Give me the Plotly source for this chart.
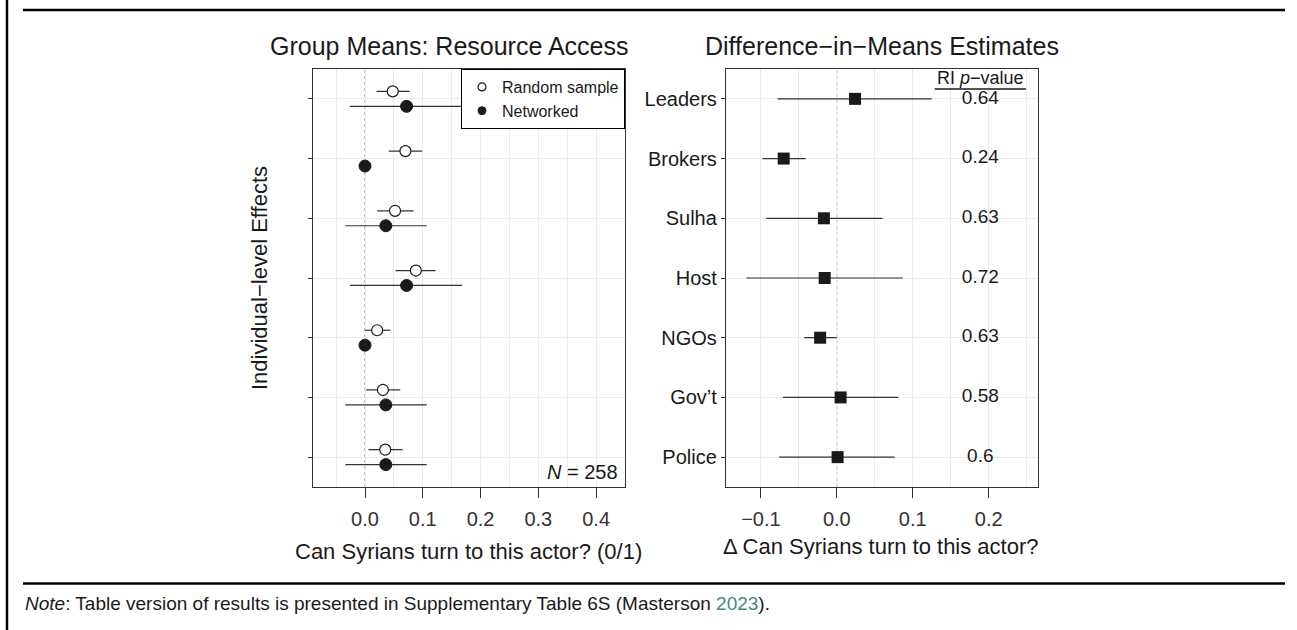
import plotly.graph_objects as go

# ---------------- data ----------------
actors = ["Leaders", "Brokers", "Sulha", "Host", "NGOs", "Gov\u2019t", "Police"]  # top to bottom

rand_est = [0.048, 0.070, 0.052, 0.088, 0.021, 0.031, 0.035]
rand_lo = [0.020, 0.041, 0.021, 0.053, 0.000, 0.002, 0.006]
rand_hi = [0.077, 0.099, 0.084, 0.122, 0.044, 0.061, 0.065]

net_est = [0.072, 0.000, 0.036, 0.072, 0.000, 0.036, 0.036]
net_lo = [-0.026, 0.000, -0.034, -0.026, 0.000, -0.034, -0.034]
net_hi = [0.168, 0.000, 0.107, 0.168, 0.000, 0.107, 0.107]

diff_est = [0.024, -0.070, -0.017, -0.016, -0.022, 0.005, 0.001]
diff_lo = [-0.078, -0.098, -0.093, -0.119, -0.043, -0.071, -0.076]
diff_hi = [0.125, -0.041, 0.060, 0.087, 0.000, 0.081, 0.076]

ri_pvalues = ["0.64", "0.24", "0.63", "0.72", "0.63", "0.58", "0.6"]

left_ticks = [0.0, 0.1, 0.2, 0.3, 0.4]
left_minor = [-0.05, 0.05, 0.15, 0.25, 0.35, 0.45]
right_ticks = [-0.1, 0.0, 0.1, 0.2]
right_minor = [-0.15, -0.05, 0.05, 0.15, 0.25]

# ---------------- layout constants ----------------
W, H = 1297, 630
FONT = "Liberation Sans, Arial, Helvetica, sans-serif"
TXT = "#1a1a1a"
GRID = "#ebebeb"
BORDER = "#333333"

def px_x(p):
    return p / W

def px_y(p):
    return 1 - p / H

n = len(actors)
ypos = [n - 1 - i for i in range(n)]
off = 0.125
ypos_r = [y + off for y in ypos]
ypos_n = [y - off for y in ypos]
pval_x = 0.189

fig = go.Figure()

err_style = dict(color="#333333", thickness=1.2, width=0)

# left panel
fig.add_trace(go.Scatter(
    x=rand_est, y=ypos_r, mode="markers", xaxis="x", yaxis="y", showlegend=False,
    marker=dict(symbol="circle", size=11, color="white", line=dict(color=TXT, width=1.2)),
    error_x=dict(type="data", symmetric=False,
                 array=[h - e for h, e in zip(rand_hi, rand_est)],
                 arrayminus=[e - l for e, l in zip(rand_est, rand_lo)], **err_style),
))
fig.add_trace(go.Scatter(
    x=net_est, y=ypos_n, mode="markers", xaxis="x", yaxis="y", showlegend=False,
    marker=dict(symbol="circle", size=12, color=TXT, line=dict(color=TXT, width=1)),
    error_x=dict(type="data", symmetric=False,
                 array=[h - e for h, e in zip(net_hi, net_est)],
                 arrayminus=[e - l for e, l in zip(net_est, net_lo)], **err_style),
))
# legend entries
fig.add_trace(go.Scatter(
    x=[None], y=[None], mode="markers", xaxis="x", yaxis="y", name="Random sample",
    marker=dict(symbol="circle", size=8, color="white", line=dict(color=TXT, width=1.2)),
))
fig.add_trace(go.Scatter(
    x=[None], y=[None], mode="markers", xaxis="x", yaxis="y", name="Networked",
    marker=dict(symbol="circle", size=8, color=TXT, line=dict(color=TXT, width=1)),
))

# right panel
fig.add_trace(go.Scatter(
    x=diff_est, y=ypos, mode="markers", xaxis="x2", yaxis="y2", showlegend=False,
    marker=dict(symbol="square", size=12, color=TXT),
    error_x=dict(type="data", symmetric=False,
                 array=[h - e for h, e in zip(diff_hi, diff_est)],
                 arrayminus=[e - l for e, l in zip(diff_est, diff_lo)], **err_style),
))
fig.add_trace(go.Scatter(
    x=[pval_x] * n, y=ypos, mode="text", text=ri_pvalues, xaxis="x2", yaxis="y2",
    showlegend=False, textfont=dict(family=FONT, size=19, color=TXT),
))

xa_common = dict(
    showline=True, mirror=True, linecolor=BORDER, linewidth=1.3,
    ticks="outside", ticklen=10, tickcolor=BORDER, tickwidth=1.3,
    showgrid=True, gridcolor=GRID, gridwidth=1.3, zeroline=False,
    tickfont=dict(family=FONT, size=20, color="#333333"),
    tickformat=".1f", fixedrange=True, ticklabelstandoff=4,
)
ya_common = dict(
    range=[-0.5, n - 0.5], tickvals=ypos, showline=True, mirror=True,
    linecolor=BORDER, linewidth=1.3, ticks="outside", ticklen=4,
    tickcolor=BORDER, tickwidth=1.3, showgrid=True, gridcolor=GRID,
    gridwidth=1.3, zeroline=False, fixedrange=True,
)

fig.update_layout(
    width=W, height=H, margin=dict(l=0, r=0, t=0, b=0),
    paper_bgcolor="white", plot_bgcolor="white",
    font=dict(family=FONT, color=TXT),
    xaxis=dict(domain=[px_x(313), px_x(625)], range=[-0.09, 0.45],
               tickvals=left_ticks,
               minor=dict(tickvals=left_minor, showgrid=True, gridcolor=GRID,
                          gridwidth=0.7, ticks=""),
               anchor="y", **xa_common),
    yaxis=dict(domain=[px_y(487), px_y(69)], showticklabels=False, anchor="x",
               **ya_common),
    xaxis2=dict(domain=[px_x(726), px_x(1038)], range=[-0.146, 0.265],
                tickvals=right_ticks,
                minor=dict(tickvals=right_minor, showgrid=True, gridcolor=GRID,
                           gridwidth=0.7, ticks=""),
                anchor="y2", **xa_common),
    yaxis2=dict(domain=[px_y(487), px_y(69)], ticktext=actors, anchor="x2",
                tickfont=dict(family=FONT, size=20, color=TXT), **ya_common),
    legend=dict(x=px_x(625), y=px_y(69), xanchor="right", yanchor="top",
                bgcolor="white", bordercolor="#000000", borderwidth=1,
                font=dict(family=FONT, size=16, color=TXT),
                itemwidth=30, tracegroupgap=0),
    hovermode=False,
)

# zero reference lines (dotted)
for xr, yr in (("x", "y domain"), ("x2", "y2 domain")):
    fig.add_shape(type="line", xref=xr, yref=yr, x0=0, x1=0, y0=0, y1=1,
                  line=dict(color="#8a8a8a", width=1, dash="dot"), layer="below")

# RI p-value header underline
fig.add_shape(type="line", xref="x2", yref="paper", x0=pval_x - 0.06, x1=pval_x + 0.06,
              y0=px_y(89), y1=px_y(89), line=dict(color=TXT, width=1.3))

# page frame lines
fig.add_shape(type="line", xref="paper", yref="paper", x0=px_x(7), x1=px_x(7),
              y0=0, y1=1, line=dict(color="black", width=2.5))
for yy in (10, 583.5):
    fig.add_shape(type="line", xref="paper", yref="paper", x0=px_x(23), x1=px_x(1285),
                  y0=px_y(yy), y1=px_y(yy), line=dict(color="black", width=2.5))

ann = [
    dict(text="Group Means: Resource Access", x=px_x(450), y=px_y(46), size=25),
    dict(text="Difference\u2212in\u2212Means Estimates", x=px_x(882), y=px_y(46), size=25),
    dict(text="Can Syrians turn to this actor? (0/1)", x=px_x(468), y=px_y(551), size=22),
    dict(text="\u0394 Can Syrians turn to this actor?", x=px_x(881), y=px_y(546), size=22),
]
for a in ann:
    fig.add_annotation(text=a["text"], x=a["x"], y=a["y"], xref="paper", yref="paper",
                       xanchor="center", yanchor="middle", showarrow=False,
                       font=dict(family=FONT, size=a["size"], color=TXT))

fig.add_annotation(text="Individual\u2212level Effects", x=px_x(259), y=px_y(278),
                   xref="paper", yref="paper", textangle=-90, showarrow=False,
                   xanchor="center", yanchor="middle",
                   font=dict(family=FONT, size=22, color=TXT))
fig.add_annotation(text="<i>N</i> = 258", x=0.985, y=px_y(471.5), xref="x domain",
                   yref="paper", xanchor="right", yanchor="middle", showarrow=False,
                   font=dict(family=FONT, size=20, color=TXT))
fig.add_annotation(text="RI <i>p</i>\u2212value", x=pval_x, y=px_y(78), xref="x2",
                   yref="paper", xanchor="center", yanchor="middle", showarrow=False,
                   font=dict(family=FONT, size=18, color=TXT))
fig.add_annotation(
    text="<i>Note</i>: Table version of results is presented in Supplementary Table 6S "
         "(Masterson <span style='color:#3d8a8a'>2023</span>).",
    x=px_x(23), y=px_y(603), xref="paper", yref="paper", xanchor="left",
    yanchor="middle", showarrow=False,
    font=dict(family=FONT, size=19, color=TXT))

fig.write_html("out.html", config={"displayModeBar": False, "staticPlot": False},
               post_script="document.body.style.margin='0';document.body.style.overflow='hidden';")
